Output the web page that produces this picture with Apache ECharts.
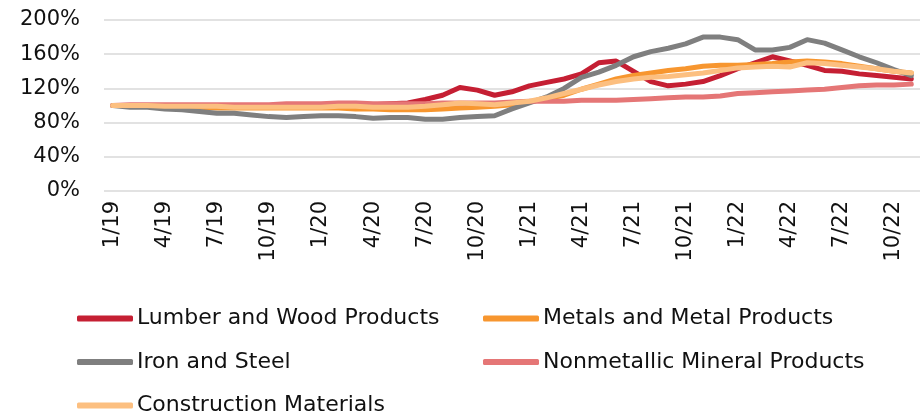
<!DOCTYPE html>
<html>
<head>
<meta charset="utf-8">
<script src="https://cdn.jsdelivr.net/npm/echarts@6/dist/echarts.min.js"></script>
<style>html,body{margin:0;padding:0;background:#fff}#c{width:920px;height:420px}</style>
</head>
<body>
<div id="c"></div>
<script>
// Month labels 1/19 .. 11/22
const months = [];
for (let y = 19; y <= 22; y++) {
  for (let m = 1; m <= 12; m++) {
    if (y === 22 && m > 11) break;
    months.push(m + '/' + y);
  }
}
const yTicks = ['0%', '40%', '80%', '120%', '160%', '200%'];

const lumber = [100,100,100,100,100,100,100,100,100,100,100,101,101,101,101,101,102,103,107,112,121,118,112,116,123,127,131,137,150,152,140,128,123,125,128,135,143,150,157,152,147,141,140,137,135,133,131];
const metals = [100,100,99,99,98,98,97,97,97,97,97,97,97,97,96,96,95,95,95,96,97,98,99,101,104,108,112,119,125,131,135,138,141,143,146,147,147,148,149,151,152,151,149,146,143,140,138];
const ironSteel = [100,98,98,96,95,93,91,91,89,87,86,87,88,88,87,85,86,86,84,84,86,87,88,96,103,110,120,133,139,147,157,163,167,172,180,180,177,165,165,168,177,173,165,157,150,142,135];
const nonmetallic = [100,101,101,101,101,101,101,101,101,101,102,102,102,103,103,102,102,102,102,103,103,103,103,104,105,105,105,106,106,106,107,108,109,110,110,111,114,115,116,117,118,119,121,123,124,124,125];
const construction = [100,100,100,99,99,99,99,98,98,98,98,98,98,99,99,98,98,98,99,101,103,102,101,103,105,109,114,119,124,128,131,133,134,136,138,141,144,145,146,145,150,149,147,145,143,140,138];

const names = ['Lumber and Wood Products','Metals and Metal Products','Iron and Steel','Nonmetallic Mineral Products','Construction Materials'];
const colors = ['#C51F33','#F7962F','#7F7F7F','#E57676','#FCBF80'];
const datas = [lumber, metals, ironSteel, nonmetallic, construction];

const FONT = 'DejaVu Sans';
const chart = echarts.init(document.getElementById('c'));
const legendBase = {
  orient: 'vertical', itemWidth: 56, itemHeight: 6, itemGap: 18.5, icon: 'roundRect',
  textStyle: {fontFamily: FONT, fontSize: 22, color: '#111', lineHeight: 25, padding: [0,0,0,-1]},
  padding: 0
};
chart.setOption({
  animation: false,
  color: colors,
  grid: {left: 104, top: 20, height: 171, width: 816},
  legend: [
    Object.assign({}, legendBase, {left: 77, top: 306, data: [names[0], names[2], names[4]]}),
    Object.assign({}, legendBase, {left: 483, top: 306, data: [names[1], names[3]]})
  ],
  xAxis: {
    type: 'category', data: months,
    axisLine: {show: false}, axisTick: {show: false},
    axisLabel: {
      interval: 0, rotate: 90, margin: 10, fontFamily: FONT, fontSize: 21, color: '#111',
      formatter: (v, i) => (i % 3 === 0 ? v : '')
    }
  },
  yAxis: {
    type: 'value', min: 0, max: 200, interval: 40,
    axisLabel: {margin: 24, fontFamily: FONT, fontSize: 21, color: '#111', formatter: v => v + '%'},
    splitLine: {lineStyle: {color: '#D9D9D9', width: 1.5}},
    axisLine: {show: false}, axisTick: {show: false}
  },
  series: names.map((n, i) => ({
    name: n, type: 'line', data: datas[i], symbol: 'none', smooth: false,
    lineStyle: {width: 5, color: colors[i], cap: 'round', join: 'round'},
    itemStyle: {color: colors[i]}
  }))
});
</script>
</body>
</html>
